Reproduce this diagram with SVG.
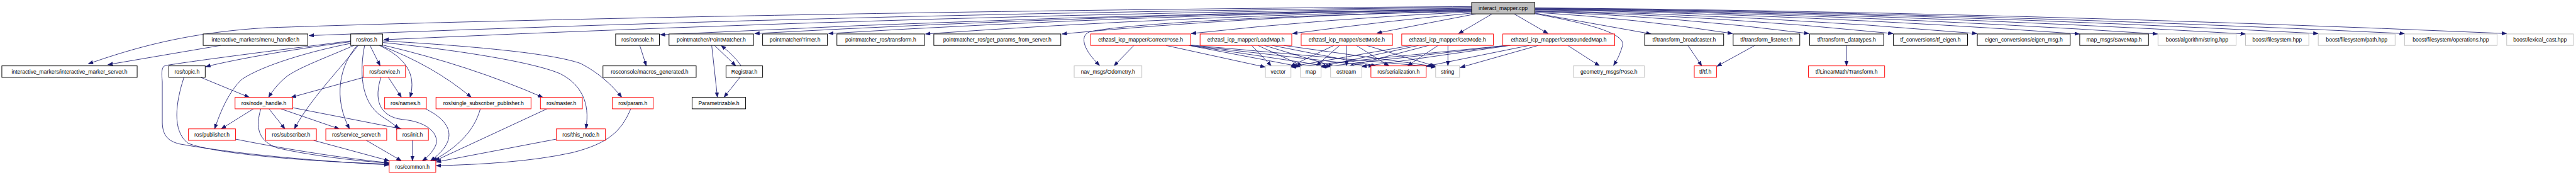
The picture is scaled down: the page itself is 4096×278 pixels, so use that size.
<svg xmlns="http://www.w3.org/2000/svg" width="4096" height="278" viewBox="0 0 4096 278">
<style>
rect{stroke-width:1.5}
.b{fill:#fff;stroke:#000}
.r{fill:#fff;stroke:#ff0000}
.g{fill:#fff;stroke:#bfbfbf}
.root{fill:#bfbfbf;stroke:#000}
text{font-family:"Liberation Sans",Arial,Helvetica,sans-serif;font-size:13.3px;text-anchor:middle;fill:#000}
#edges path{fill:none;stroke:#191970;stroke-width:1.3;marker-end:url(#a)}
</style>
<defs>
<marker id="a" markerUnits="userSpaceOnUse" markerWidth="13" markerHeight="10" refX="12" refY="4.5" orient="auto">
<path d="M0,0 L12,4.5 L0,9 z" fill="#191970" stroke="#191970" stroke-width="0.8"/>
</marker>
</defs>
<rect width="4096" height="278" fill="#fff"/>
<g transform="scale(0.65)">
<g id="edges">
<!-- root to left -->
<path d="M3600,16 C2600,22 1300,45 650,68 C450,80 320,120 216,156"/>
<path d="M3600,18 Q2200,30 756,87"/>
<path d="M3600,20 Q2300,35 939,97"/>
<path d="M3600,22 Q2600,35 1615,85"/>
<path d="M3600,23 Q2700,35 1846,82"/>
<path d="M3600,24 Q2800,35 2027,82"/>
<path d="M3600,25 Q2900,38 2264,83"/>
<path d="M3600,26 Q3050,40 2598,83"/>
<path d="M3600,28 C3150,36 2760,58 2668,77 C2640,85 2648,120 2690,160"/>
<path d="M3600,29 Q3250,45 2914,82"/>
<path d="M3602,32 Q3400,50 3162,82"/>
<path d="M3610,34 Q3500,55 3368,81"/>
<path d="M3650,34 L3568,82"/>
<path d="M3704,34 L3787,82"/>
<!-- root to right -->
<path d="M3752,33 C3870,55 3985,80 3968,115 C3962,135 3955,148 3947,160"/>
<path d="M3754,32 L4039,83"/>
<path d="M3755,30 Q4000,45 4238,82"/>
<path d="M3755,28 Q4100,40 4425,82"/>
<path d="M3755,27 Q4200,38 4631,82"/>
<path d="M3755,26 Q4300,36 4836,82"/>
<path d="M3755,24 Q4400,34 5087,83"/>
<path d="M3755,23 Q4500,32 5278,83"/>
<path d="M3755,22 Q4600,31 5493,83"/>
<path d="M3755,21 Q4700,30 5671,82"/>
<path d="M3755,20 Q4800,30 5882,82"/>
<path d="M3755,19 Q4900,29 6132,82"/>
<!-- menu handler -->
<path d="M540,111 L264,158"/>
<!-- ros.h -->
<path d="M858,102 C780,112 620,135 503,163"/>
<path d="M858,100 C700,120 500,145 405,160 C395,163 395,175 397,200 L397,300 C398,330 410,345 440,352 C600,380 800,395 952,403"/>
<path d="M858,106 C760,125 640,160 590,195 C560,225 540,270 525,315"/>
<path d="M866,111 C800,140 730,165 700,188 C680,205 668,220 657,238"/>
<path d="M876,111 C840,160 760,240 720,315"/>
<path d="M874,111 C830,160 815,240 855,315"/>
<path d="M892,111 C880,170 880,250 935,285 C955,298 965,305 976,315"/>
<path d="M905,111 L930,161"/>
<path d="M928,111 C990,140 1020,180 1003,238"/>
<path d="M930,111 Q1060,160 1153,238"/>
<path d="M936,110 Q1150,160 1328,238"/>
<path d="M937,100 C1150,112 1350,130 1420,155 C1460,175 1495,205 1521,238"/>
<path d="M937,104 C1100,120 1300,150 1370,180 C1420,205 1445,250 1433,315"/>
<!-- topic -->
<path d="M491,189 L610,238"/>
<path d="M450,189 C430,250 420,320 460,350 C520,375 750,395 952,401"/>
<!-- node_handle -->
<path d="M620,266 L541,315"/>
<path d="M658,266 L697,315"/>
<path d="M638,266 C625,310 630,345 680,362 C760,380 860,392 952,399"/>
<path d="M687,266 L830,315"/>
<path d="M715,263 L982,315"/>
<!-- service -->
<path d="M890,189 L712,238"/>
<path d="M950,189 L982,238"/>
<path d="M932,189 C915,240 925,285 985,292 C1050,298 1075,330 1066,355 C1058,372 1045,385 1033,393"/>
<!-- to common -->
<path d="M1041,266 C1110,300 1120,345 1053,393"/>
<path d="M1175,266 C1160,320 1120,360 1058,393"/>
<path d="M1338,266 L1064,393"/>
<path d="M1361,340 L1067,396"/>
<path d="M1543,266 C1520,320 1490,350 1400,373 C1300,395 1180,402 1067,405"/>
<path d="M576,340 C700,365 850,388 952,398"/>
<path d="M767,343 L952,393"/>
<path d="M896,343 L982,393"/>
<path d="M1009,343 L1009,393"/>
<!-- console / pointmatcher -->
<path d="M1565,111 L1581,161"/>
<path d="M1748,111 L1800,161"/>
<path d="M1813,161 C1800,142 1785,128 1764,111"/>
<path d="M1741,111 L1755,238"/>
<path d="M1810,189 L1771,238"/>
<!-- CorrectPose -->
<path d="M2774,111 L2725,161"/>
<path d="M2852,111 L3095,164"/>
<path d="M2908,111 L3181,163"/>
<path d="M2910,111 L3256,163"/>
<path d="M2912,111 L3360,162"/>
<path d="M2912,110 L3512,164"/>
<!-- LoadMap -->
<path d="M3062,111 L3110,161"/>
<path d="M3077,111 L3186,161"/>
<path d="M3093,111 L3262,162"/>
<path d="M3112,111 L3366,161"/>
<path d="M3140,111 L3514,163"/>
<!-- SetMode -->
<path d="M3263,111 L3157,162"/>
<path d="M3277,111 L3220,161"/>
<path d="M3294,111 L3294,161"/>
<path d="M3318,111 L3398,161"/>
<path d="M3343,111 L3512,162"/>
<!-- GetMode -->
<path d="M3453,111 L3158,163"/>
<path d="M3470,111 L3231,163"/>
<path d="M3495,111 L3300,162"/>
<path d="M3518,111 L3443,161"/>
<path d="M3542,111 L3542,161"/>
<!-- GetBoundedMap -->
<path d="M3685,111 L3158,164"/>
<path d="M3690,111 L3232,164"/>
<path d="M3695,111 L3331,163"/>
<path d="M3741,111 L3489,162"/>
<path d="M3763,111 L3572,165"/>
<path d="M3835,111 L3913,161"/>
<!-- tf -->
<path d="M4129,111 L4163,161"/>
<path d="M4293,111 L4200,162"/>
<path d="M4517,111 L4517,161"/>
</g>
<g id="root"><rect class="root" x="3600" y="6" width="154.5" height="28"/><text x="3677" y="24.8">interact_mapper.cpp</text></g>
<g id="n_ims"><rect class="b" x="4.5" y="161" width="331" height="28"/><text x="170" y="179.8">interactive_markers/interactive_marker_server.h</text></g>
<g id="n_menu"><rect class="b" x="497" y="83" width="256" height="28"/><text x="625" y="101.8">interactive_markers/menu_handler.h</text></g>
<g id="n_topic"><rect class="b" x="413" y="161" width="89" height="28"/><text x="457.5" y="179.8">ros/topic.h</text></g>
<g id="n_nh"><rect class="r" x="575" y="238" width="141" height="28"/><text x="645.5" y="256.8">ros/node_handle.h</text></g>
<g id="n_pub"><rect class="r" x="461" y="315" width="115" height="28"/><text x="518.5" y="333.8">ros/publisher.h</text></g>
<g id="n_sub"><rect class="r" x="650" y="315" width="124" height="28"/><text x="712" y="333.8">ros/subscriber.h</text></g>
<g id="n_ros"><rect class="b" x="858" y="83" width="78" height="28"/><text x="897" y="101.8">ros/ros.h</text></g>
<g id="n_service"><rect class="r" x="890" y="161" width="102" height="28"/><text x="941" y="179.8">ros/service.h</text></g>
<g id="n_names"><rect class="r" x="941" y="238" width="102" height="28"/><text x="992" y="256.8">ros/names.h</text></g>
<g id="n_ssp"><rect class="r" x="1066.5" y="238" width="232.5" height="28"/><text x="1182.7" y="256.8">ros/single_subscriber_publisher.h</text></g>
<g id="n_master"><rect class="r" x="1322" y="238" width="102.6" height="28"/><text x="1373.3" y="256.8">ros/master.h</text></g>
<g id="n_ss"><rect class="r" x="797" y="315" width="149" height="28"/><text x="871.5" y="333.8">ros/service_server.h</text></g>
<g id="n_init"><rect class="r" x="970.5" y="315" width="77.5" height="28"/><text x="1009.2" y="333.8">ros/init.h</text></g>
<g id="n_thisnode"><rect class="r" x="1361" y="315" width="120" height="28"/><text x="1421" y="333.8">ros/this_node.h</text></g>
<g id="n_common"><rect class="r" x="952" y="393" width="114" height="28"/><text x="1009" y="411.8">ros/common.h</text></g>
<g id="n_console"><rect class="b" x="1506" y="83" width="107" height="28"/><text x="1559.5" y="101.8">ros/console.h</text></g>
<g id="n_pm"><rect class="b" x="1636.6" y="83" width="206.7" height="28"/><text x="1740" y="101.8">pointmatcher/PointMatcher.h</text></g>
<g id="n_timer"><rect class="b" x="1865.6" y="83" width="158.4" height="28"/><text x="1944.8" y="101.8">pointmatcher/Timer.h</text></g>
<g id="n_pmtf"><rect class="b" x="2047.3" y="83" width="214.3" height="28"/><text x="2154.4" y="101.8">pointmatcher_ros/transform.h</text></g>
<g id="n_macros"><rect class="b" x="1475" y="161" width="228" height="28"/><text x="1589" y="179.8">rosconsole/macros_generated.h</text></g>
<g id="n_reg"><rect class="b" x="1776" y="161" width="89.6" height="28"/><text x="1820.8" y="179.8">Registrar.h</text></g>
<g id="n_parz"><rect class="b" x="1693" y="238" width="131" height="28"/><text x="1758.5" y="256.8">Parametrizable.h</text></g>
<g id="n_param"><rect class="r" x="1498" y="238" width="100" height="28"/><text x="1548" y="256.8">ros/param.h</text></g>
<g id="n_gp"><rect class="b" x="2284.4" y="83" width="310.6" height="28"/><text x="2439.7" y="101.8">pointmatcher_ros/get_params_from_server.h</text></g>
<g id="n_cp"><rect class="r" x="2668" y="83" width="244.5" height="28"/><text x="2790.2" y="101.8">ethzasl_icp_mapper/CorrectPose.h</text></g>
<g id="n_odom"><rect class="g" x="2627.7" y="161" width="165.6" height="28"/><text x="2710.5" y="179.8">nav_msgs/Odometry.h</text></g>
<g id="n_lm"><rect class="r" x="2935.7" y="83" width="224.3" height="28"/><text x="3047.8" y="101.8">ethzasl_icp_mapper/LoadMap.h</text></g>
<g id="n_sm"><rect class="r" x="3183" y="83" width="223.3" height="28"/><text x="3294.6" y="101.8">ethzasl_icp_mapper/SetMode.h</text></g>
<g id="n_gm"><rect class="r" x="3429" y="83" width="224" height="28"/><text x="3541" y="101.8">ethzasl_icp_mapper/GetMode.h</text></g>
<g id="n_vector"><rect class="g" x="3095.5" y="161" width="62.5" height="28"/><text x="3126.7" y="179.8">vector</text></g>
<g id="n_map"><rect class="g" x="3181.3" y="161" width="50.4" height="28"/><text x="3206.5" y="179.8">map</text></g>
<g id="n_ostream"><rect class="g" x="3255" y="161" width="76.3" height="28"/><text x="3293.1" y="179.8">ostream</text></g>
<g id="n_ser"><rect class="r" x="3353.6" y="161" width="135.2" height="28"/><text x="3421.2" y="179.8">ros/serialization.h</text></g>
<g id="n_string"><rect class="g" x="3512" y="161" width="58.5" height="28"/><text x="3541.2" y="179.8">string</text></g>
<g id="n_gbm"><rect class="r" x="3676.3" y="83" width="273.7" height="28"/><text x="3813.1" y="101.8">ethzasl_icp_mapper/GetBoundedMap.h</text></g>
<g id="n_pose"><rect class="g" x="3849" y="161" width="173.8" height="28"/><text x="3935.9" y="179.8">geometry_msgs/Pose.h</text></g>
<g id="n_tfb"><rect class="b" x="4023.2" y="83" width="193.3" height="28"/><text x="4119.8" y="101.8">tf/transform_broadcaster.h</text></g>
<g id="n_tf"><rect class="r" x="4144.6" y="161" width="54.4" height="28"/><text x="4171.8" y="179.8">tf/tf.h</text></g>
<g id="n_tfl"><rect class="b" x="4239.7" y="83" width="163" height="28"/><text x="4321.2" y="101.8">tf/transform_listener.h</text></g>
<g id="n_tfd"><rect class="b" x="4426.8" y="83" width="181.2" height="28"/><text x="4517.4" y="101.8">tf/transform_datatypes.h</text></g>
<g id="n_tfe"><rect class="b" x="4631.7" y="83" width="181.3" height="28"/><text x="4722.3" y="101.8">tf_conversions/tf_eigen.h</text></g>
<g id="n_eigen"><rect class="b" x="4837" y="83" width="227.3" height="28"/><text x="4950.6" y="101.8">eigen_conversions/eigen_msg.h</text></g>
<g id="n_ltf"><rect class="r" x="4424" y="161" width="186.3" height="28"/><text x="4517.1" y="179.8">tf/LinearMath/Transform.h</text></g>
<g id="n_save"><rect class="b" x="5087.5" y="83" width="168.3" height="28"/><text x="5171.6" y="101.8">map_msgs/SaveMap.h</text></g>
<g id="n_bas"><rect class="g" x="5279" y="83" width="191" height="28"/><text x="5374.5" y="101.8">boost/algorithm/string.hpp</text></g>
<g id="n_bfs"><rect class="g" x="5493" y="83" width="155" height="28"/><text x="5570.5" y="101.8">boost/filesystem.hpp</text></g>
<g id="n_bfp"><rect class="g" x="5671" y="83" width="188" height="28"/><text x="5765" y="101.8">boost/filesystem/path.hpp</text></g>
<g id="n_bfo"><rect class="g" x="5882" y="83" width="226.5" height="28"/><text x="5995.2" y="101.8">boost/filesystem/operations.hpp</text></g>
<g id="n_blc"><rect class="g" x="6132" y="83" width="163" height="28"/><text x="6213.5" y="101.8">boost/lexical_cast.hpp</text></g>
</g>
</svg>
